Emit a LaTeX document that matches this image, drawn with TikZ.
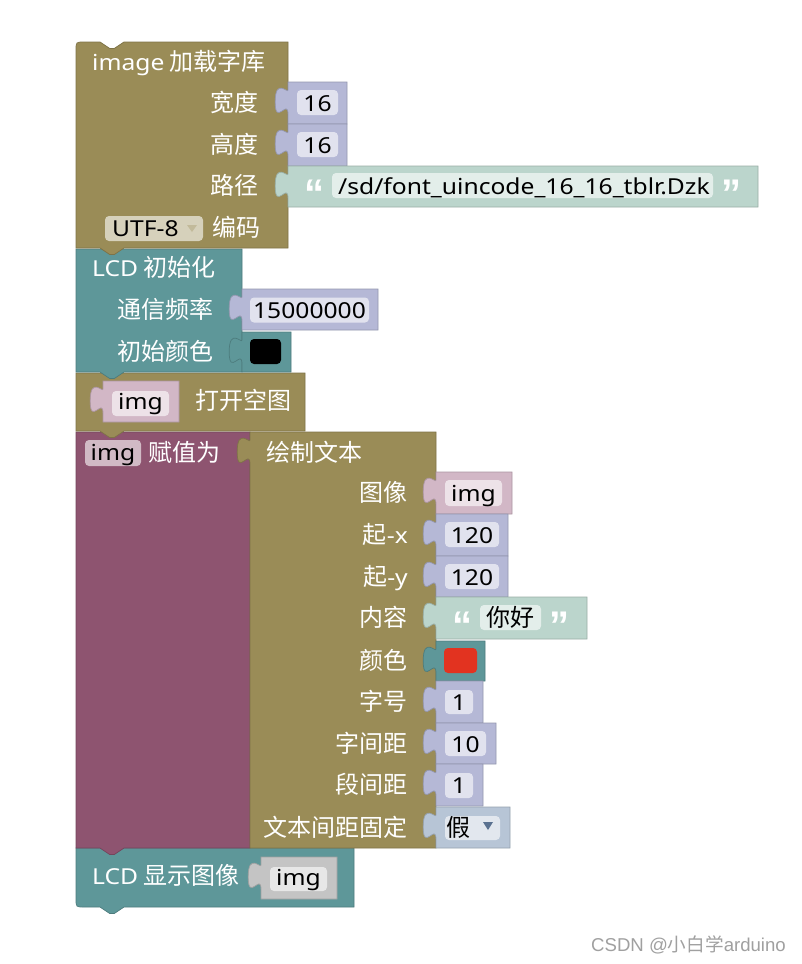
\documentclass[tikz,border=0pt]{standalone}
\usepackage{fontspec}
\setmainfont{Noto Sans CJK SC}
\newfontfamily\latf[FakeStretch=1.12]{Noto Sans}
\newfontfamily\quof{Liberation Sans}
\newfontfamily\wmf{Liberation Sans}
\newfontfamily\wmc{Noto Sans CJK SC}
\newcommand\latx[1]{{\latf\fontsize{22}{22}\selectfont #1}}
\definecolor{cOl}{HTML}{9A8C57}
\definecolor{cTe}{HTML}{5E9799}
\definecolor{cPu}{HTML}{8E5470}
\definecolor{cLa}{HTML}{B5B8D6}
\definecolor{cSt}{HTML}{BBD5CC}
\definecolor{cPk}{HTML}{D2B7C6}
\definecolor{cBo}{HTML}{B7C5D6}
\definecolor{cGr}{HTML}{C4C4C4}
\definecolor{cRd}{HTML}{E23320}
\definecolor{cWm}{HTML}{A0A0A0}
\definecolor{cAr}{HTML}{5A7190}
\newcommand\valblk[5]{%
  \filldraw[fill=#1, draw=#1!82!black, line width=0.7pt] (#2,#3) -- (#4,#3) -- (#4,#5) -- (#2,#5) -- (#2,{#3+32})
   .. controls (#2,{#3+16}) and ({#2-12.8},{#3+44.8}) .. ({#2-12.8},{#3+20})
   .. controls ({#2-12.8},{#3-4.8}) and (#2,{#3+12}) .. (#2,{#3+8}) -- cycle;}
\newcommand\fld[4]{\fill[white, fill opacity=0.6, rounded corners=4pt] (#1,#2) rectangle (#3,#4);}
\tikzset{
  lab/.style={text=white, inner sep=0pt, anchor=base east, font=\fontsize{24}{24}\selectfont},
  tit/.style={text=white, inner sep=0pt, anchor=base west, font=\fontsize{24}{24}\selectfont},
  ftx/.style={text=black, inner sep=0pt, anchor=base, font=\fontsize{24}{24}\selectfont},
  ftw/.style={text=black, inner sep=0pt, anchor=base west, font=\fontsize{24}{24}\selectfont},
  quo/.style={text=white, inner sep=0pt, anchor=base, font=\quof\bfseries\fontsize{40}{40}\selectfont},
}
\begin{document}
\begin{tikzpicture}[x=1pt,y=-1pt]
\fill[white] (0,0) rectangle (802,964);
\useasboundingbox (0,0) rectangle (802,964);

% ---------- block 5: LCD show image
\filldraw[fill=cTe, draw=cTe!82!black, line width=0.7pt] (76,848) -- (354,848) -- (354,907) -- (124,907) -- (114.4,913.4) -- (109.6,913.4) -- (100,907) -- (84,907) .. controls (76,907) .. (76,899) -- cycle;
\node[tit] (t6) at (92,884) {\latx{LCD} 显示图像};
\valblk{cGr}{261}{857}{337}{899}
\fld{270}{867}{327}{891}
\node[ftx] (f6) at (298.5,885) {\latx{img}};

% ---------- block 4: purple set
\filldraw[fill=cPu, draw=cPu!82!black, line width=0.7pt] (76,432) -- (250,432) -- (250,848) -- (124,848) -- (114.4,854.4) -- (109.6,854.4) -- (100,848) -- (76,848) -- cycle;
\fld{85}{440}{141}{466}
\node[ftx] (f41) at (113,460) {\latx{img}};
\node[tit] (t4) at (148,461) {赋值为};

% draw text block
\valblk{cOl}{250}{432}{436}{848}
\node[tit] (t5) at (266,461) {绘制文本};
\node[lab] (l51) at (408,501) {图像};
\node[lab] (l52) at (408,543) {起\latx{-x}};
\node[lab] (l53) at (408,585) {起\latx{-y}};
\node[lab] (l54) at (408,626) {内容};
\node[lab] (l55) at (408,669) {颜色};
\node[lab] (l56) at (408,710) {字号};
\node[lab] (l57) at (408,752) {字间距};
\node[lab] (l58) at (408,793) {段间距};
\node[lab] (l59) at (408,836) {文本间距固定};

\valblk{cPk}{436}{472}{512}{514}
\fld{445}{480}{502}{506}
\node[ftx] (f51) at (473.5,501) {\latx{img}};
\valblk{cLa}{436}{514}{508}{556}
\fld{445}{522}{499}{547}
\node[ftx] (f52) at (472,543) {\latx{120}};
\valblk{cLa}{436}{556}{508}{597}
\fld{445}{564}{499}{589}
\node[ftx] (f53) at (472,585) {\latx{120}};
\valblk{cSt}{436}{597}{587}{639}
\node[quo] (q51) at (462,639) {“};
\fld{480}{605}{541}{630}
\node[ftx] (f54) at (510.5,626) {你好};
\node[quo] (q52) at (559,639) {”};
\valblk{cTe}{436}{641}{485}{681}
\fill[cRd, rounded corners=4pt] (444,648) rectangle (477,673);
\valblk{cLa}{436}{681}{483}{723}
\fld{445}{690}{473}{714}
\node[ftx] (f56) at (459,710) {\latx{1}};
\valblk{cLa}{436}{723}{496}{764}
\fld{445}{731}{486}{756}
\node[ftx] (f57) at (465.5,752) {\latx{10}};
\valblk{cLa}{436}{764}{483}{806}
\fld{445}{773}{473}{798}
\node[ftx] (f58) at (459,793) {\latx{1}};
\valblk{cBo}{436}{807}{510}{848}
\fld{445}{816}{500}{840}
\node[ftw] (f59) at (446,836) {假};
\fill[cAr] (483,822) -- (493,822) -- (488,830) -- cycle;

% ---------- block 3: open empty image
\filldraw[fill=cOl, draw=cOl!82!black, line width=0.7pt] (76,373) -- (305,373) -- (305,431) -- (124,431) -- (114.4,437.4) -- (109.6,437.4) -- (100,431) -- (76,431) -- cycle;
\valblk{cPk}{103}{381}{179}{422}
\fld{112}{391}{169}{416}
\node[ftx] (f31) at (140.5,409) {\latx{img}};
\node[tit] (t3) at (195,409) {打开空图};

% ---------- block 2: LCD init
\filldraw[fill=cTe, draw=cTe!82!black, line width=0.7pt] (76,249) -- (242,249) -- (242,372) -- (124,372) -- (114.4,378.4) -- (109.6,378.4) -- (100,372) -- (76,372) -- cycle;
\node[tit] (t2) at (92,276) {\latx{LCD} 初始化};
\node[lab] (l21) at (214,318) {通信频率};
\node[lab] (l22) at (214,360) {初始颜色};
\valblk{cLa}{242}{289}{378}{330}
\fld{250}{297.5}{369}{322.5}
\node[ftx] (f21) at (309.5,318) {\latx{15000000}};
\valblk{cTe}{242}{332}{291}{372}
\fill[black, rounded corners=4pt] (250,339) rectangle (281,364);

% ---------- block 1: image load font
\filldraw[fill=cOl, draw=cOl!82!black, line width=0.7pt] (76,50) .. controls (76,42) .. (84,42) -- (100,42) -- (109.6,48.4) -- (114.4,48.4) -- (124,42) -- (288,42) -- (288,248) -- (124,248) -- (114.4,254.4) -- (109.6,254.4) -- (100,248) -- (76,248) -- cycle;
\node[tit] (t1) at (92,70) {\latx{image} 加载字库};
\node[lab] (l11) at (259,111) {宽度};
\node[lab] (l12) at (259,153) {高度};
\node[lab] (l13) at (259,194) {路径};
\node[tit] (l14) at (212,236) {编码};
\fld{105}{216}{203}{241}
\node[ftw] (f14) at (112,236) {\latx{UTF-8}};
\fill[cOl!60!white] (187,225) -- (197,225) -- (192,232) -- cycle;
\valblk{cLa}{288}{82}{347}{124}
\fld{297}{90}{338}{115}
\node[ftx] (f11) at (317.5,111) {\latx{16}};
\valblk{cLa}{288}{124}{347}{166}
\fld{297}{132}{338}{157}
\node[ftx] (f12) at (317.5,153) {\latx{16}};
\valblk{cSt}{288}{166}{758}{207}
\node[quo] (q11) at (314,207) {“};
\fld{332}{173}{713}{198}
\node[ftw] (f13) at (338,194) {\latx{/sd/font\_uincode\_16\_16\_tblr.Dzk}};
\node[quo] (q12) at (731,207) {”};

% watermark
\node[anchor=base west, inner sep=0pt, text=cWm] (wm) at (591,951) {\wmf\fontsize{18.6}{18.6}\selectfont CSDN @{\wmc 小白学}arduino};
\end{tikzpicture}
\end{document}
